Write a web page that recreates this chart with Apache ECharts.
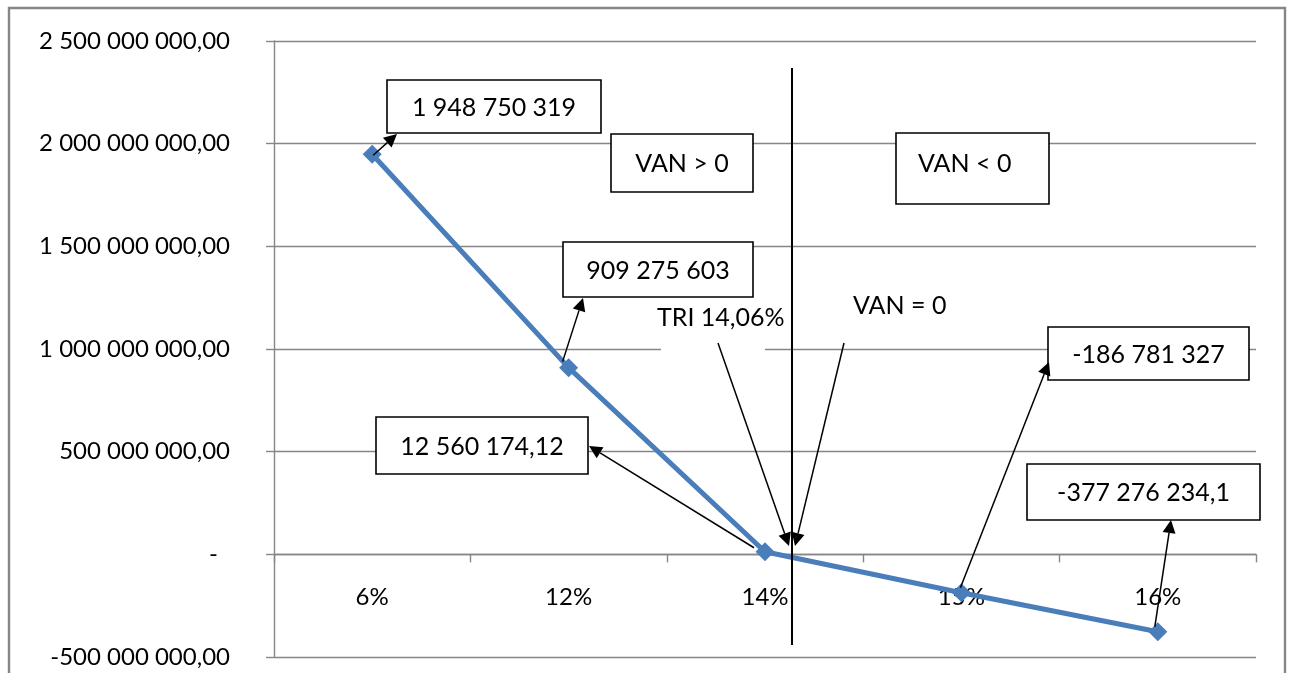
<!DOCTYPE html>
<html><head><meta charset="utf-8">
<script src="https://cdn.jsdelivr.net/npm/echarts@6/dist/echarts.min.js"></script>
<style>html,body{margin:0;padding:0;background:#fff}#c{width:1290px;height:673px}</style>
</head><body><div id="c"></div>
<script>
const categories = ['6%', '12%', '14%', '15%', '16%'];
const vanValues = [1948750319, 909275603, 12560174.12, -186781327, -377276234.1];
const yTicks = [-500000000, 0, 500000000, 1000000000, 1500000000, 2000000000, 2500000000];
const pointLabels = ['1 948 750 319', '909 275 603', '12 560 174,12', '-186 781 327', '-377 276 234,1'];
const triLabel = 'TRI 14,06%';
const zoneLabels = ['VAN > 0', 'VAN < 0', 'VAN = 0'];

const FONT = 'Lato';
const GRAY = '#868686';

function fmt(v) {
  if (v === 0) return '{d|-}';
  const neg = v < 0;
  const s = Math.abs(v).toFixed(2);
  let [i, d] = s.split('.');
  i = i.replace(/\B(?=(\d{3})+(?!\d))/g, ' ');
  return (neg ? '-' : '') + i + ',' + d;
}

const GRID_TOP = 41, GRID_BOTTOM = 16, H = 673;
const yMin = yTicks[0], yMax = yTicks[yTicks.length - 1];
// place the category axis on the zero value line
const zeroOffset = -((0 - yMin) / (yMax - yMin)) * (H - GRID_TOP - GRID_BOTTOM);

const chart = echarts.init(document.getElementById('c'), null, {renderer: 'canvas'});
chart.setOption({
  animation: false,
  backgroundColor: '#fff',
  grid: {left: 274, right: 34, top: GRID_TOP, bottom: GRID_BOTTOM, outerBoundsMode: 'none', containLabel: false},
  xAxis: {
    type: 'category', data: categories, boundaryGap: true, offset: zeroOffset,
    axisLine: {onZero: false, lineStyle: {color: GRAY, width: 1.4}},
    axisTick: {show: true, length: 8, lineStyle: {color: GRAY, width: 1.4}},
    axisLabel: {margin: 31, fontSize: 24, color: '#000', fontFamily: FONT},
    splitLine: {show: false}
  },
  yAxis: {
    type: 'value', min: yMin, max: yMax, interval: 500000000,
    axisLine: {show: true, lineStyle: {color: GRAY, width: 1.4}},
    axisTick: {show: true, length: 8, lineStyle: {color: GRAY, width: 1.4}},
    axisLabel: {margin: 44, fontSize: 24, color: '#000', fontFamily: FONT, formatter: fmt,
      rich: {d: {fontSize: 24, fontFamily: FONT, color: '#000', padding: [0, 12, 0, 0]}}},
    splitLine: {show: true, lineStyle: {color: GRAY, width: 1.4}}
  },
  series: [{
    type: 'line', data: vanValues, symbol: 'diamond', symbolSize: 19,
    lineStyle: {color: '#4A7EBB', width: 5}, itemStyle: {color: '#4A7EBB'}, z: 3
  }]
});

const pts = vanValues.map((v, i) => chart.convertToPixel({seriesIndex: 0}, [i, v]));

function arrow(x1, y1, x2, y2) {
  const dx = x2 - x1, dy = y2 - y1, L = Math.hypot(dx, dy), ux = dx / L, uy = dy / L;
  const hl = 13, hw = 6.5;
  const bx = x2 - ux * hl, by = y2 - uy * hl, px = -uy, py = ux;
  return [
    {type: 'line', z: 100, shape: {x1, y1, x2: bx, y2: by}, style: {stroke: '#000', lineWidth: 1.5}},
    {type: 'polygon', z: 100, shape: {points: [[x2, y2], [bx + px * hw, by + py * hw], [bx - px * hw, by - py * hw]]}, style: {fill: '#000'}}
  ];
}
function box(x, y, w, h, text, tx, ty) {
  return [
    {type: 'rect', z: 100, shape: {x, y, width: w, height: h}, style: {fill: '#fff', stroke: '#000', lineWidth: 1.6}},
    {type: 'text', z: 101, style: {text, x: tx !== undefined ? tx : x + w / 2, y: ty !== undefined ? ty : y + h / 2 + 1,
      fontSize: 25, fontFamily: FONT, fill: '#000', align: tx !== undefined ? 'left' : 'center', verticalAlign: 'middle'}}
  ];
}
function label(text, x, y) {
  return {type: 'text', z: 101, style: {text, x, y, fontSize: 25, fontFamily: FONT, fill: '#000', align: 'left', verticalAlign: 'middle'}};
}

let g = [];
g.push({type: 'rect', z: 90, shape: {x: 9, y: 8, width: 1276, height: 700}, style: {fill: null, stroke: GRAY, lineWidth: 2.4}});
g.push({type: 'line', z: 100, shape: {x1: 792, y1: 68, x2: 792, y2: 645}, style: {stroke: '#000', lineWidth: 2}});
g.push({type: 'rect', z: 99, shape: {x: 661, y: 298, width: 104, height: 58}, style: {fill: '#fff'}});
g.push(label(triLabel, 657, 318));
g.push(label(zoneLabels[2], 853, 306));
g = g.concat(box(387, 80, 214, 53, pointLabels[0]));
g = g.concat(box(611, 134, 142, 58, zoneLabels[0]));
g = g.concat(box(896, 133, 153, 71, zoneLabels[1], 918, 164));
g = g.concat(box(563, 242, 190, 55, pointLabels[1]));
g = g.concat(box(376, 417, 212, 57, pointLabels[2]));
g = g.concat(box(1048, 327, 201, 53, pointLabels[3]));
g = g.concat(box(1027, 464, 233, 56, pointLabels[4]));
g = g.concat(arrow(pts[0][0] + 1, pts[0][1] + 1, 397, 134));
g = g.concat(arrow(pts[1][0] - 6, pts[1][1] - 6, 583, 298));
g = g.concat(arrow(pts[2][0] - 11, pts[2][1] - 4, 589, 446));
g = g.concat(arrow(718, 343, 789, 546));
g = g.concat(arrow(844, 343, 795, 546));
g = g.concat(arrow(pts[3][0] - 1, pts[3][1] - 5, 1049, 362));
g = g.concat(arrow(pts[4][0] - 3, pts[4][1] - 5, 1171, 520));
chart.setOption({graphic: g});
</script></body></html>
